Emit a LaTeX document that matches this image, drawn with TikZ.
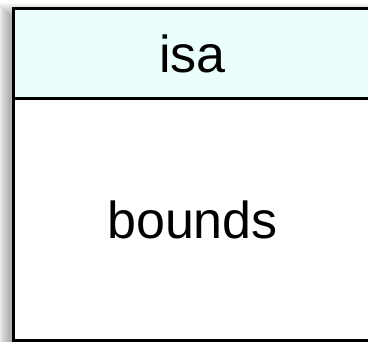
\documentclass[tikz,border=0pt]{standalone}
\usepackage{fontspec}
\setmainfont{Liberation Sans}
\usepackage{xcolor}
\usepackage{tikz}
\usetikzlibrary{positioning}

\definecolor{headfill}{RGB}{234,255,252}

\begin{document}
\begin{tikzpicture}[
    x=1pt, y=1pt,
    part/.style={rectangle, draw=black, line width=3pt, outer sep=0pt, inner sep=0pt,
                 minimum width=358pt, font=\fontsize{52}{60}\selectfont},
    header/.style={part, fill=headfill, minimum height=90pt},
    body/.style={part, fill=white, minimum height=241.5pt}
]
    \useasboundingbox (0,0) rectangle (368,-342);
    \clip (0,0) rectangle (368,-342);

    % Soft shadow behind the class box
    \foreach \i in {0,...,12}
        \fill[black, opacity=0.028] (9.5-\i,-15+\i) rectangle (367.5+\i,-346.5-\i);

    % Class box: name on top, members below
    \node[header] (cls) at (192.5,-54) {isa};
    \node[body, below=0pt of cls] (members) {bounds};
\end{tikzpicture}
\end{document}
